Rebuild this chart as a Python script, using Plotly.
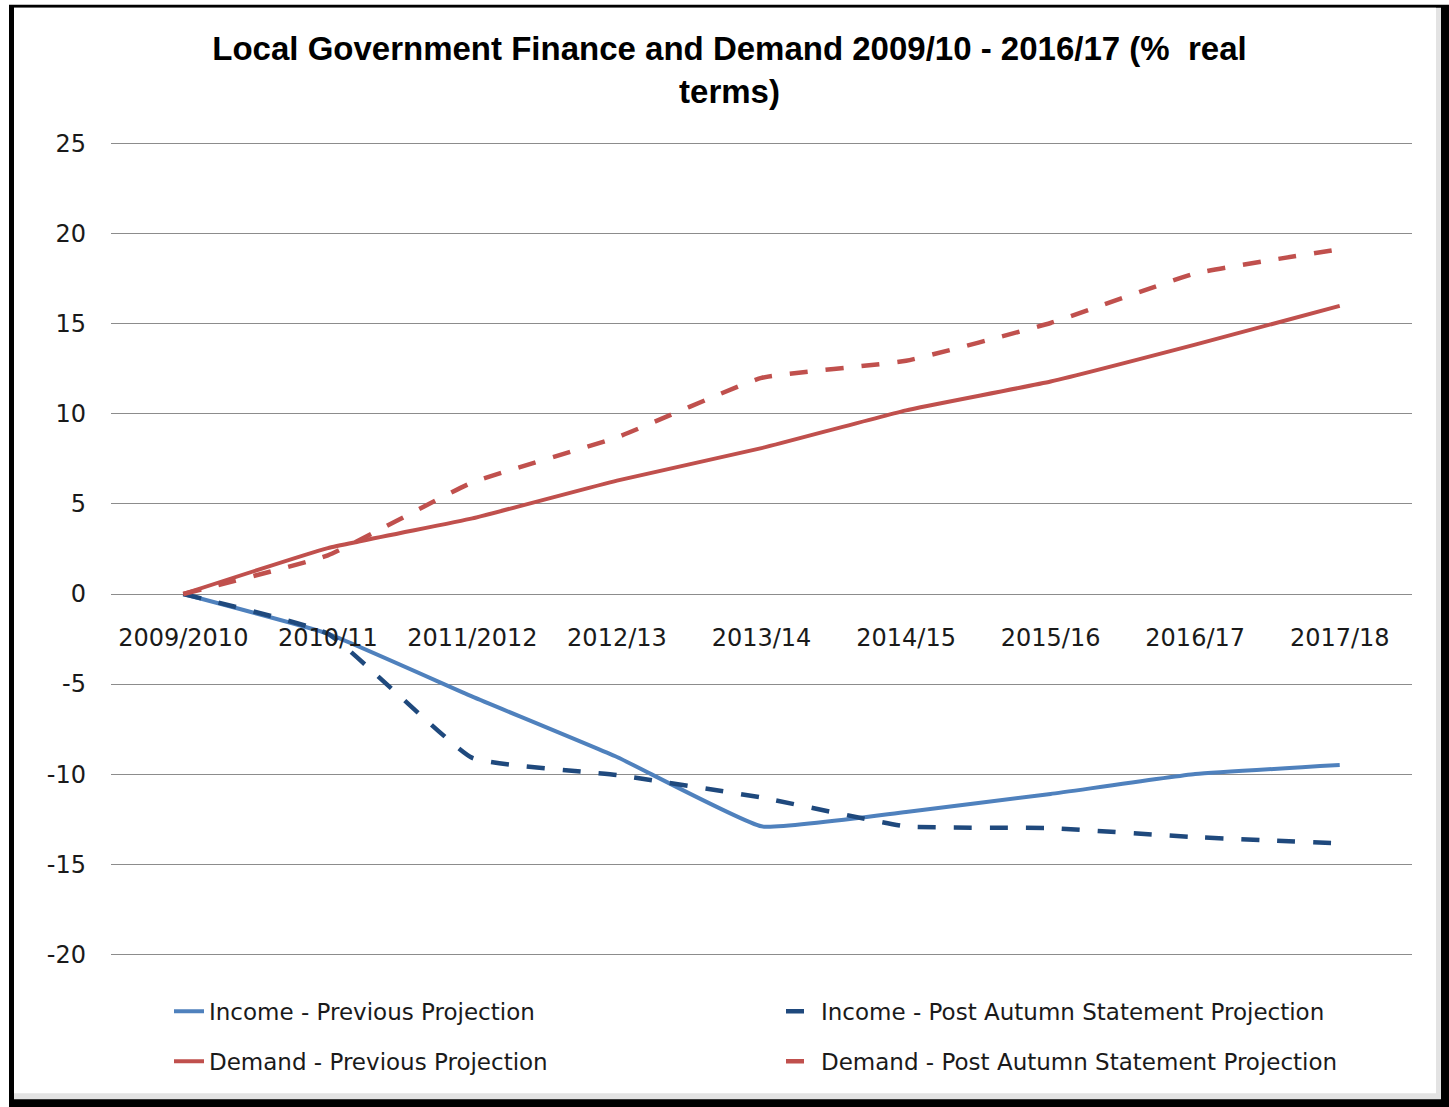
import plotly.graph_objects as go

categories = ["2009/2010", "2010/11", "2011/2012", "2012/13", "2013/14",
              "2014/15", "2015/16", "2016/17", "2017/18"]
income_previous = [0, -2.2, -5.7, -9.05, -12.9, -12.1, -11.1, -10.0, -9.5]
income_post_as = [0, -2.2, -9.1, -10.05, -11.3, -12.9, -13.0, -13.5, -13.85]
demand_previous = [0, 2.55, 4.2, 6.3, 8.1, 10.2, 11.8, 13.85, 16.0]
demand_post_as = [0, 2.15, 6.2, 8.7, 12.0, 12.95, 15.05, 17.8, 19.15]
y_ticks = [25, 20, 15, 10, 5, 0, -5, -10, -15, -20]

W, H = 1449, 1107
PAD = 0.1  # small range padding so the end gridlines are drawn
L, R = 111, 37
T, B = 144 - PAD * 18, 153 - PAD * 18
PW, PH = W - L - R, H - T - B


def px(x):
    return (x - L) / PW


def py(y):
    return (H - B - y) / PH


fig = go.Figure()
series = [
    ("Income - Previous Projection", income_previous, "#4F81BD", "solid", "legend"),
    ("Income - Post Autumn Statement Projection", income_post_as, "#1F497D", "18px,18px", "legend"),
    ("Demand - Previous Projection", demand_previous, "#C0504D", "solid", "legend2"),
    ("Demand - Post Autumn Statement Projection", demand_post_as, "#C0504D", "18px,18px", "legend2"),
]
for name, vals, color, dash, lg in series:
    fig.add_trace(go.Scatter(
        x=categories, y=vals, name=name, mode="lines",
        line=dict(color=color, width=4.5 if dash != "solid" else 4, dash=dash,
                  shape="spline", smoothing=0.35),
        legend=lg,
    ))

shapes = [
    dict(type="rect", xref="paper", yref="paper", layer="below",
         x0=px(9), x1=px(1449), y0=py(1107), y1=py(5),
         fillcolor="black", line=dict(width=0)),
    dict(type="rect", xref="paper", yref="paper", layer="below",
         x0=px(14), x1=px(1441), y0=py(1099), y1=py(8),
         fillcolor="#e3e3e3", line=dict(width=0)),
    dict(type="rect", xref="paper", yref="paper", layer="below",
         x0=px(14), x1=px(1436), y0=py(1093), y1=py(8),
         fillcolor="white", line=dict(width=0)),
]

tick_font = dict(family="DejaVu Sans", size=24, color="#1a1a1a")
legend_font = dict(family="DejaVu Sans", size=23, color="#1a1a1a")

fig.update_layout(
    width=W, height=H,
    margin=dict(l=L, r=R, t=T, b=B),
    paper_bgcolor="white",
    plot_bgcolor="rgba(0,0,0,0)",
    shapes=shapes,
    title=dict(
        text="<b>Local Government Finance and Demand 2009/10 - 2016/17 (%  real<br>terms)</b>",
        font=dict(family="Liberation Sans", size=33, color="black"),
        x=729.5 / W, xanchor="center", xref="container",
        y=1 - 60 / H, yanchor="middle", yref="container",
    ),
    xaxis=dict(
        type="category", range=[-0.5, 8.5],
        anchor="free", position=py(594),
        showgrid=False, showline=False, zeroline=False,
        ticks="", ticklabelstandoff=27, tickfont=tick_font,
    ),
    yaxis=dict(
        range=[-20 - PAD, 25 + PAD], tickvals=y_ticks, ticktext=[str(v) for v in y_ticks],
        showgrid=True, gridcolor="#8c8c8c", gridwidth=1,
        zeroline=False, showline=False, ticks="",
        ticklabelstandoff=24, tickfont=tick_font,
    ),
    legend=dict(
        orientation="h", x=px(169), xanchor="left", y=py(1011), yanchor="middle",
        entrywidth=567, font=legend_font, bgcolor="rgba(0,0,0,0)",
    ),
    legend2=dict(
        orientation="h", x=px(169), xanchor="left", y=py(1061), yanchor="middle",
        entrywidth=567, font=legend_font, bgcolor="rgba(0,0,0,0)",
    ),
)

fig.write_html("out.html", config={"displayModeBar": False},
               post_script="document.body.style.margin='0';")
